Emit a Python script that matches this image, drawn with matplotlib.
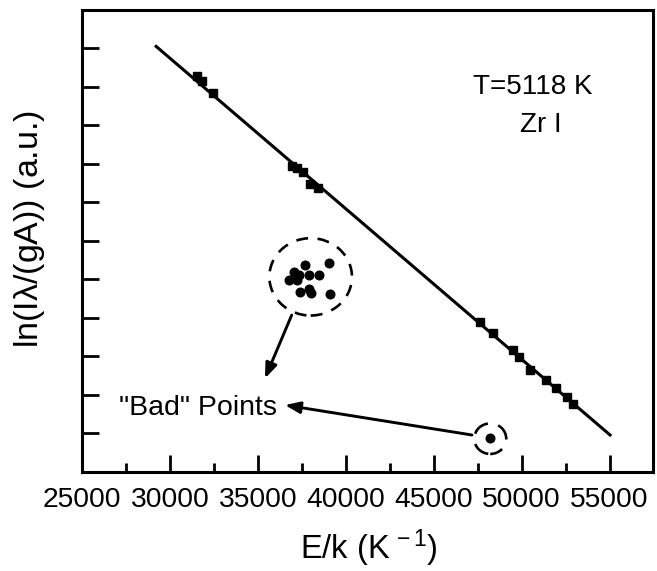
import matplotlib
matplotlib.use("Agg")
import matplotlib.pyplot as plt
from matplotlib.patches import Ellipse
from matplotlib.ticker import MultipleLocator, NullFormatter

plt.rcParams['font.family'] = ['Liberation Sans', 'DejaVu Sans']
plt.rcParams['mathtext.fontset'] = 'custom'
plt.rcParams['mathtext.rm'] = 'Liberation Sans'
plt.rcParams['mathtext.it'] = 'Liberation Sans'

# Data (E/k in K, ln(I*lambda/(gA)) in arbitrary units)
good_x = [31521, 31839, 32464, 36922, 37206, 37581, 37990, 38434,
          47644, 48349, 49503, 49844, 50486, 51396, 51964, 52572, 52914]
good_y = [5.145, 5.074, 4.918, 3.977, 3.944, 3.892, 3.745, 3.691,
          1.948, 1.797, 1.581, 1.486, 1.321, 1.191, 1.083, 0.966, 0.879]

bad_x = [37696, 39027, 37037, 37321, 37890, 38492, 36752, 37224,
         37412, 37890, 38037, 39118, 48212]
bad_y = [2.681, 2.714, 2.594, 2.551, 2.558, 2.551, 2.486, 2.494,
         2.334, 2.369, 2.325, 2.312, 0.434]

fit_x = [29150, 55091]
fit_y = [5.54, 0.464]

xticks = [25000, 30000, 35000, 40000, 45000, 50000, 55000]
temperature_label = "T=5118 K"
species_label = "Zr I"

fig = plt.figure(figsize=(6.57, 5.71), dpi=100)
ax = fig.add_axes([82/657, 99.3/571, 570.7/657, 461.7/571])

ax.plot(fit_x, fit_y, color='black', lw=2.2, solid_capstyle='butt', zorder=2)
ax.plot(good_x, good_y, 's', color='black', ms=5.4, zorder=3)
ax.plot(bad_x, bad_y, 'o', color='black', ms=6.2, zorder=3)

# dashed circles around bad points
ax.add_patch(Ellipse((38002, 2.532), 4696, 1.005, fill=False, ec='black',
                     lw=1.9, linestyle=(0, (4.5, 3.6))))
ax.add_patch(Ellipse((48212, 0.429), 1819, 0.397, fill=False, ec='black',
                     lw=1.9, linestyle=(1.5, (6.5, 4.0))))

# arrows
arrowprops = dict(arrowstyle='-|>,head_length=0.9,head_width=0.35',
                  color='black', lw=2.1, shrinkA=0, shrinkB=0)
ax.annotate('', xy=(35404, 1.213), xytext=(36922, 2.035), arrowprops=arrowprops)
ax.annotate('', xy=(36541, 0.866), xytext=(47172, 0.477), arrowprops=arrowprops)

ax.text(31612, 0.736, '"Bad" Points', ha='center', va='baseline', fontsize=20.5)
ax.text(50640, 4.914, temperature_label, ha='center', va='baseline', fontsize=20)
ax.text(51094, 4.416, species_label, ha='center', va='baseline', fontsize=20)

ax.set_xlim(25000, 57450)
ax.set_ylim(0, 6.0)
ax.set_xticks(xticks)
ax.set_xticklabels([str(t) for t in xticks])
ax.xaxis.set_minor_locator(MultipleLocator(2500))
ax.yaxis.set_major_locator(MultipleLocator(0.5))
ax.yaxis.set_major_formatter(NullFormatter())

ax.tick_params(axis='x', which='major', direction='in', length=12, width=2,
               labelsize=20.3, pad=11, top=False)
ax.tick_params(axis='x', which='minor', direction='in', length=6.5, width=2, top=False)
ax.tick_params(axis='y', which='major', direction='in', length=12, width=2, right=False)
for s in ax.spines.values():
    s.set_linewidth(2.2)

fig.text(369/657, 1 - 548/571, r'E/k (K$^{\,-1}$)', ha='center', va='center', fontsize=23.5)
fig.text(30/657, 1 - 229/571, r'ln(I$\lambda$/(gA)) (a.u.)', rotation=90,
         ha='center', va='center', fontsize=24.5)

fig.savefig('out.png', dpi=100)
